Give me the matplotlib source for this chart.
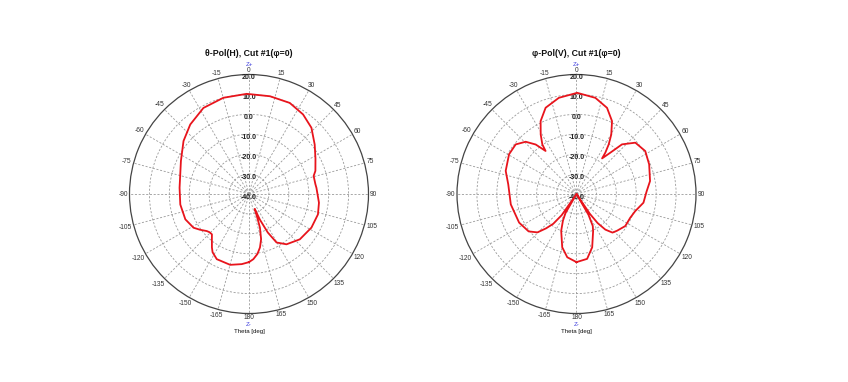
import numpy as np
import matplotlib
matplotlib.use("Agg")
import matplotlib.pyplot as plt

# ---- data (theta in degrees, gain in dB) ----
theta_h = [-180, -174.1, -165.1, -153.7, -148, -145.3, -140, -137.4, -134, -131.3,
           -126, -121.3, -111.7, -98.7, -84.9, -64.1, -51, -40.2, -27.9, -14.9,
           -1.3, 12.1, 24.1, 34.2, 43.3, 53, 62, 70.8, 74.4, 81.6,
           84.8, 97.1, 106.5, 118.3, 131.7, 143.3, 150.4, 154, 157, 159,
           160.8, 162, 165, 168.4, 172, 176.2, 180]
gain_h = [-5.8, -4.6, -3.2, -3.5, -5.5, -7.3, -11.0, -12.5, -12.4, -11.8,
          -9.5, -7.4, -5.6, -5.1, -5.0, -2.0, 2.3, 5.7, 8.9, 10.0,
          10.3, 10.2, 10.1, 8.3, 5.7, 1.3, -2.2, -4.7, -6.3, -6.3,
          -6.0, -4.6, -3.9, -4.4, -5.8, -8.5, -12.0, -18.5, -26.0, -32.0,
          -27.0, -22.2, -16.5, -12.6, -9.6, -7.2, -5.8]

theta_v = [-180, -171.7, -165, -157.4, -153, -150, -147.5, -145, -142, -138.5,
           -134.5, -128, -116.5, -99, -82, -71.9, -59.5, -50.8, -44.2, -39.5,
           -35.7, -34.6, -31, -26.2, -19.7, -10.4, 0.4, 11.1, 19.5, 26,
           30.3, 33, 34.9, 35.7, 39.3, 42.5, 48.9, 58, 67.8, 80,
           88, 97.4, 106.3, 113.8, 123.3, 132, 137, 141, 144, 146,
           148, 150, 153, 156, 163.6, 170.7, 180]
gain_v = [-5.8, -7.9, -12.3, -20.0, -25.0, -29.0, -40.0, -27.0, -21.0, -17.0,
          -12.5, -9.5, -7.8, -6.6, -5.4, -2.6, -0.7, -0.6, -3.4, -7.8,
          -13.4, -9.8, -5.1, 0.8, 6.0, 9.1, 10.8, 9.2, 5.9, 0.7,
          -5.4, -10.3, -14.7, -18.0, -13.2, -6.2, -0.8, 0.7, -0.6, -2.5,
          -4.8, -6.1, -9.3, -10.5, -10.7, -12.5, -13.5, -17.0, -22.0, -28.0,
          -40.0, -28.0, -22.0, -19.5, -12.1, -7.0, -5.8]

r_ticks = [20, 10, 0, -10, -20, -30, -40]
angle_ticks = list(range(0, 360, 15))
angle_labels = [str(a) if a <= 180 else str(a - 360) for a in angle_ticks]
titles = ["θ-Pol(H), Cut #1(φ=0)", "φ-Pol(V), Cut #1(φ=0)"]

plt.rcParams["font.family"] = ["Liberation Sans", "DejaVu Sans"]

W, H = 848, 382
R = 119.5
centers = [(249.0, 194.0), (576.5, 194.0)]
series = [(theta_h, gain_h), (theta_v, gain_v)]

fig = plt.figure(figsize=(W / 100, H / 100), dpi=100)
angle_texts = []

for (cx, cy), (th, g), title in zip(centers, series, titles):
    ax = fig.add_axes([(cx - R) / W, (H - cy - R) / H, 2 * R / W, 2 * R / H],
                      projection="polar")
    ax.set_theta_zero_location("N")
    ax.set_theta_direction(-1)
    ax.set_ylim(-40, 20)
    ax.set_thetagrids(angle_ticks, [""] * len(angle_ticks))
    ax.set_rgrids(r_ticks[1:-1], labels=[""] * (len(r_ticks) - 2))
    ax.grid(True, color="#9a9a9a", linestyle=(0, (2.5, 2)), linewidth=0.6)
    ax.spines["polar"].set_color("#444444")
    ax.spines["polar"].set_linewidth(0.9)
    ax.tick_params(axis="both", length=0, pad=0)
    for r in r_ticks:
        ax.annotate(f"{r:.1f}", xy=(0, r), xytext=(0, -2.3), textcoords="offset points",
                    ha="center", va="center", fontsize=5, fontweight="bold",
                    color="#222222", annotation_clip=False, zorder=3)
    ax.plot(np.deg2rad(th), g, color="#e8141c", linewidth=1.3, zorder=4)

    for a, lab in zip(angle_ticks, angle_labels):
        t = fig.text(0, 0, lab, ha="center", va="center", fontsize=4.8, color="#333333")
        angle_texts.append((t, cx, cy, a))

    fig.text(cx / W, 1 - 54.0 / H, title, ha="center", va="center",
             fontsize=6.3, fontweight="bold", color="#111111")
    fig.text(cx / W, 1 - 64.0 / H, "Z+", ha="center", va="center",
             fontsize=4.4, color="#3a3adc")
    fig.text(cx / W, 1 - 324.8 / H, "Z-", ha="center", va="center",
             fontsize=4.4, color="#3a3adc")
    fig.text(cx / W, 1 - 331.5 / H, "Theta [deg]", ha="center", va="center",
             fontsize=4.4, color="#111111")

# place angle labels just outside the circle
fig.canvas.draw()
renderer = fig.canvas.get_renderer()
gap = 1.5
for t, cx, cy, a in angle_texts:
    bb = t.get_window_extent(renderer)
    hw, hh = bb.width / 2, bb.height / 2 * 0.8
    s, c = np.sin(np.deg2rad(a)), np.cos(np.deg2rad(a))
    d = R + gap + hw * abs(s) + hh * abs(c)
    px, py = cx + d * s, cy - d * c
    t.set_position((px / W, 1 - py / H))

fig.savefig("out.png", dpi=100, facecolor="white")
